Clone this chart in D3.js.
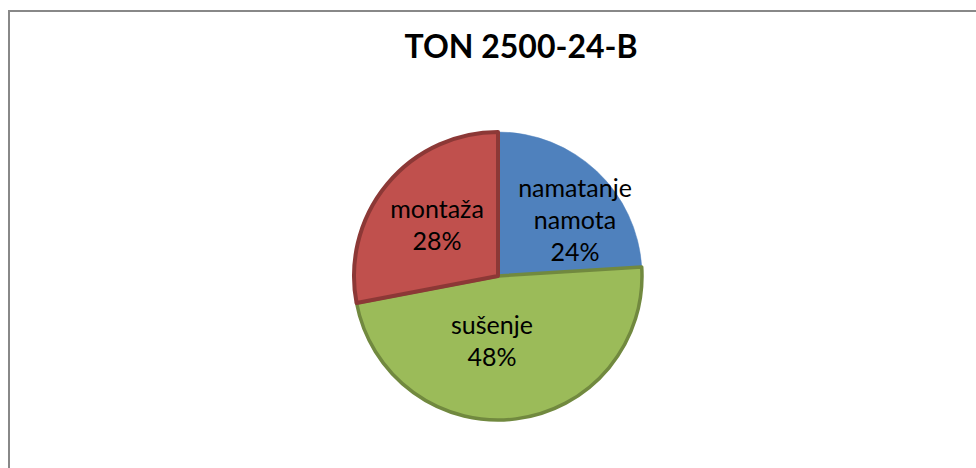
<!DOCTYPE html>
<html>
<head>
<meta charset="utf-8">
<script src="https://cdn.jsdelivr.net/npm/d3@7"></script>
<style>
  html, body { margin: 0; padding: 0; background: #fff; overflow: hidden; }
  svg { display: block; }
</style>
</head>
<body>
<svg id="chart" width="976" height="468"></svg>
<script>
// ---- data ----
const title = "TON 2500-24-B";
const categories = ["namatanje namota", "sušenje", "montaža"];
const values = [24, 48, 28];
const labelLines = [["namatanje", "namota"], ["sušenje"], ["montaža"]];

// ---- styles ----
const fills = ["#4F81BD", "#9BBB59", "#C0504D"];
const strokes = ["#4F81BD", "#71893F", "#8C3836"];
const strokeWidths = [0.5, 3.5, 4];

const W = 976, H = 468;
const svg = d3.select("#chart");

svg.append("rect").attr("width", W).attr("height", H).attr("fill", "#fff");
// chart area border (extends past right/bottom edge)
svg.append("rect")
  .attr("x", 9).attr("y", 11)
  .attr("width", 1000).attr("height", 500)
  .attr("fill", "none").attr("stroke", "#888888").attr("stroke-width", 2);

svg.append("text")
  .attr("x", 521).attr("y", 58)
  .attr("text-anchor", "middle")
  .attr("font-family", "Lato, 'Open Sans', sans-serif")
  .attr("font-weight", "bold")
  .attr("font-size", 32)
  .attr("fill", "#000")
  .text(title);

const cx = 498, cy = 276, R = 144;
const data = categories.map((c, i) => ({ cat: c, value: values[i], i }));

const pie = d3.pie().value(d => d.value).sort(null);
const arcs = pie(data);
const arc = d3.arc().innerRadius(0).outerRadius(R);

const g = svg.append("g").attr("transform", `translate(${cx},${cy})`);

g.selectAll("path.slice")
  .data(arcs)
  .join("path")
  .attr("class", "slice")
  .attr("d", arc)
  .attr("fill", d => fills[d.data.i])
  .attr("stroke", d => strokes[d.data.i])
  .attr("stroke-width", d => strokeWidths[d.data.i])
  .attr("stroke-linejoin", "round");

// label placement: block centre offsets from pie centre (best-fit, like Excel)
const labelOffset = { 0: [77, -56], 1: [-6, 65], 2: [-61, -51] };
const lineH = 32;

arcs.forEach(a => {
  const i = a.data.i;
  const lines = labelLines[i].concat([Math.round(a.data.value / d3.sum(values) * 100) + "%"]);
  const [ox, oy] = labelOffset[i];
  const t = g.append("text")
    .attr("text-anchor", "middle")
    .attr("font-family", "Lato, 'Open Sans', sans-serif")
    .attr("font-size", 25)
    .attr("fill", "#000");
  const startY = oy - (lines.length - 1) * lineH / 2;
  lines.forEach((ln, k) => {
    t.append("tspan")
      .attr("x", ox)
      .attr("y", startY + k * lineH)
      .attr("dy", "0.35em")
      .text(ln);
  });
});
</script>
</body>
</html>
